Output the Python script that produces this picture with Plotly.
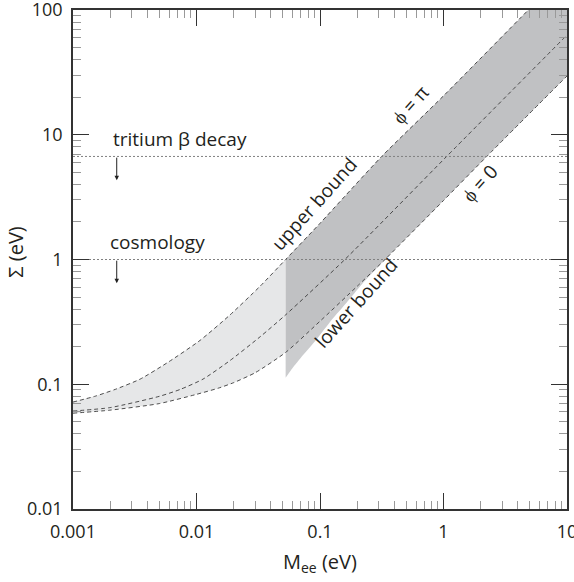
import numpy as np
import plotly.graph_objects as go

# Sum of neutrino masses (Sigma) versus effective mass M_ee, both in eV.
# phi = pi branch (upper bound of the band)
pi_M = [0.001, 0.0015, 0.0022, 0.0035, 0.006, 0.0107, 0.0187, 0.0327, 0.0527,
        0.1, 0.316, 1.0, 4.86, 10]
pi_S = [0.072, 0.08, 0.091, 0.11, 0.152, 0.225, 0.36, 0.61, 1.0,
        1.95, 6.7, 20.5, 100, 205]

# intermediate phase
mid_M = [0.001, 0.002, 0.005, 0.0074, 0.0113, 0.0187, 0.0327, 0.0527, 0.159, 1.06, 10]
mid_S = [0.061, 0.065, 0.08, 0.091, 0.11, 0.155, 0.24, 0.36, 1.0, 6.7, 63]

# phi = 0 branch
phi0_M = [0.001, 0.002, 0.005, 0.01, 0.015, 0.02, 0.03, 0.0527, 0.1, 0.2,
          0.336, 1.0, 2.24, 10]
phi0_S = [0.0586, 0.062, 0.07, 0.083, 0.093, 0.103, 0.124, 0.18, 0.32, 0.61,
          1.0, 2.97, 6.7, 29.6]

# lower bound edge of the dark band
lb_M = [0.0527, 0.06, 0.07, 0.094, 0.125, 0.164, 0.22, 0.336]
lb_S = [0.113, 0.135, 0.163, 0.229, 0.33, 0.45, 0.64, 1.0]

# split point between the light and the dark band
M_split = 0.0527

# experimental limits
tritium_limit = 6.7
cosmology_limit = 1.0
arrow_M = 0.00226

x_ticks = [0.001, 0.01, 0.1, 1, 10]
x_ticktext = ["0.001", "0.01", "0.1", "1", "10"]
y_ticks = [0.01, 0.1, 1, 10, 100]
y_ticktext = ["0.01", "0.1", "1", "10", "100"]

LIGHT = "#e6e7e8"
DARK = "#c0c1c3"
WEDGE = "#cbccce"
LINE = "#3a3a3a"
FONT = "Open Sans"


def part(Ms, Ss, lo, hi):
    xs = [m for m, s in zip(Ms, Ss) if lo <= m <= hi]
    ys = [s for m, s in zip(Ms, Ss) if lo <= m <= hi]
    return xs, ys


fig = go.Figure()

def band(lower, upper, color):
    fig.add_trace(go.Scatter(x=lower[0], y=lower[1], mode="lines",
                             line=dict(width=0, shape="spline", smoothing=0.6),
                             hoverinfo="skip", showlegend=False))
    fig.add_trace(go.Scatter(x=upper[0], y=upper[1], mode="lines", fill="tonexty",
                             fillcolor=color,
                             line=dict(width=0, shape="spline", smoothing=0.6),
                             hoverinfo="skip", showlegend=False))

# light band (M_ee below the split)
band(part(phi0_M, phi0_S, 0, M_split), part(pi_M, pi_S, 0, M_split), LIGHT)
# dark band between phi = 0 and phi = pi
band(part(phi0_M, phi0_S, M_split, 100), part(pi_M, pi_S, M_split, 100), DARK)
# wedge between the lower bound and the phi = 0 branch
band((lb_M, lb_S), part(phi0_M, phi0_S, M_split, lb_M[-1]), WEDGE)

# dashed boundary curves
for Ms, Ss in [(pi_M, pi_S), (mid_M, mid_S), (phi0_M, phi0_S)]:
    fig.add_trace(go.Scatter(x=Ms, y=Ss, mode="lines",
                             line=dict(color=LINE, width=0.9, dash="4px,3px",
                                       shape="spline", smoothing=0.6),
                             hoverinfo="skip", showlegend=False))

# horizontal limits
for lim in [tritium_limit, cosmology_limit]:
    fig.add_trace(go.Scatter(x=[x_ticks[0], x_ticks[-1]], y=[lim, lim], mode="lines",
                             line=dict(color="#808080", width=1, dash="2px,2px"),
                             hoverinfo="skip", showlegend=False))

anns = []
# downward arrows under each limit
for lim in [tritium_limit, cosmology_limit]:
    anns.append(dict(x=np.log10(arrow_M), y=np.log10(lim) - 0.19, xref="x", yref="y",
                     ax=0, ay=-24, text="", showarrow=True, arrowhead=2,
                     arrowsize=0.9, arrowwidth=1, arrowcolor="#222"))

txt = dict(family=FONT, size=19, color="#231f20")
rot = dict(showarrow=False, textangle=-48, font=txt, xref="paper", yref="paper",
           xanchor="center", yanchor="middle")
anns += [
    dict(x=np.log10(arrow_M) - 0.05, y=np.log10(tritium_limit) + 0.14, xref="x", yref="y",
         text="tritium β decay", showarrow=False, xanchor="left", font=txt),
    dict(x=np.log10(arrow_M) - 0.07, y=np.log10(cosmology_limit) + 0.14, xref="x", yref="y",
         text="cosmology", showarrow=False, xanchor="left", font=txt),
    dict(x=(314 - 73) / 494, y=(509 - 204) / 499, text="upper bound", **rot),
    dict(x=(356 - 73) / 494, y=(509 - 303) / 499, text="lower bound", **rot),
    dict(x=(410 - 73) / 494, y=(509 - 105) / 499, text="ϕ = π", **rot),
    dict(x=(480 - 73) / 494, y=(509 - 183) / 499, text="ϕ = 0", **rot),
    # axis titles
    dict(x=0.5, y=-0.075, xref="paper", yref="paper", yanchor="top", xanchor="center",
         text="M<sub>ee</sub> (eV)", showarrow=False,
         font=dict(family=FONT, size=20, color="#231f20")),
    dict(x=-0.118, y=0.515, xref="paper", yref="paper", xanchor="center", yanchor="middle",
         text="Σ (eV)", showarrow=False, textangle=-90,
         font=dict(family=FONT, size=20, color="#231f20")),
]

minor_x = [m * 10.0 ** d for d in range(-3, 1) for m in range(2, 10)]
minor_y = [m * 10.0 ** d for d in range(-2, 2) for m in range(2, 10)]

axis_common = dict(type="log", showgrid=False, zeroline=False, showline=True,
                   linecolor="#333", linewidth=1.5, mirror="ticks",
                   ticks="inside", ticklen=16, tickwidth=1.2, tickcolor="#333",
                   ticklabeloverflow="allow", automargin=False,
                   tickfont=dict(family=FONT, size=18, color="#231f20"))

fig.update_layout(
    width=574, height=582,
    margin=dict(l=73, r=7, t=10, b=73, autoexpand=False),
    paper_bgcolor="white", plot_bgcolor="white",
    xaxis=dict(range=[-3, 1], tickvals=x_ticks, ticktext=x_ticktext,
               ticklabelstandoff=6,
               minor=dict(tickvals=minor_x, ticks="inside", ticklen=8,
                          tickwidth=1, tickcolor="#999", showgrid=False),
               **axis_common),
    yaxis=dict(range=[-2, 2], tickvals=y_ticks, ticktext=y_ticktext,
               ticklabelstandoff=5,
               minor=dict(tickvals=minor_y, ticks="inside", ticklen=8,
                          tickwidth=1, tickcolor="#999", showgrid=False),
               **axis_common),
    annotations=anns,
    showlegend=False,
)

fig.write_html("out.html")
